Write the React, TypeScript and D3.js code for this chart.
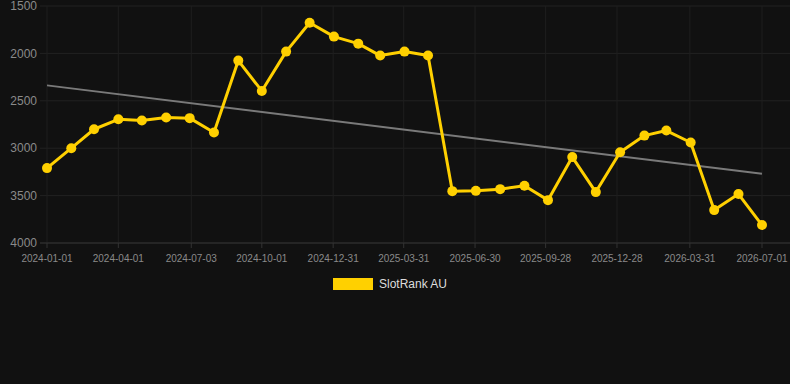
import React from "react";
import * as d3 from "d3";

const dates = [
  "2024-01-01","2024-02-01","2024-03-01","2024-04-01","2024-05-01","2024-06-01",
  "2024-07-01","2024-08-01","2024-09-01","2024-10-01","2024-11-01","2024-12-01",
  "2025-01-01","2025-02-01","2025-03-01","2025-04-01","2025-05-01","2025-06-01",
  "2025-07-01","2025-08-01","2025-09-01","2025-10-01","2025-11-01","2025-12-01",
  "2026-01-01","2026-02-01","2026-03-01","2026-04-01","2026-05-01","2026-06-01",
  "2026-07-01",
];
const ranks = [
  3210, 3000, 2800, 2695, 2708, 2677, 2683, 2835, 2076, 2396, 1981, 1676,
  1823, 1897, 2023, 1981, 2023, 3453, 3450, 3432, 3397, 3548, 3094, 3463,
  3042, 2867, 2814, 2940, 3653, 3484, 3811,
];
const yTicks = [1500, 2000, 2500, 3000, 3500, 4000];
const xTickLabels = [
  "2024-01-01","2024-04-01","2024-07-03","2024-10-01","2024-12-31","2025-03-31",
  "2025-06-30","2025-09-28","2025-12-28","2026-03-31","2026-07-01",
];
const seriesName = "SlotRank AU";
const xDomain = ["2024-01-01", "2026-07-01"];

const W = 790;
const H = 384;

export default function App() {
  const parse = d3.utcParse("%Y-%m-%d");
  const d0 = parse(xDomain[0])!;
  const d1 = parse(xDomain[1])!;
  const x = d3.scaleUtc().domain([d0, d1]).range([47, 762]);
  const y = d3.scaleLinear().domain([1500, 4000]).range([6, 243]);

  const pts = dates.map((d, i) => ({ t: parse(d)!, v: ranks[i] }));
  const xTicks = xTickLabels.map((s) => ({ s, t: parse(s)! }));

  // linear regression trend
  const xs = pts.map((p) => p.t.getTime());
  const mx = d3.mean(xs)!;
  const my = d3.mean(ranks)!;
  let num = 0, den = 0;
  xs.forEach((xv, i) => {
    num += (xv - mx) * (ranks[i] - my);
    den += (xv - mx) * (xv - mx);
  });
  const slope = num / den;
  const icpt = my - slope * mx;
  const tStart = xs[0];
  const tEnd = xs[xs.length - 1];

  const line = d3
    .line<{ t: Date; v: number }>()
    .x((p) => x(p.t))
    .y((p) => y(p.v));

  const font = "'Liberation Sans', Arial, Helvetica, sans-serif";
  const yellow = "#FFD000";

  return (
    <svg
      width={W}
      height={H}
      style={{ position: "absolute", left: 0, top: 0, background: "#111111" }}
      fontFamily={font}
    >
      <rect x={0} y={0} width={W} height={H} fill="#111111" />
      {yTicks.map((t) => (
        <line key={"gy" + t} x1={40} x2={W} y1={y(t)} y2={y(t)} stroke="#222222" strokeWidth={1} />
      ))}
      {xTicks.map((t, i) => (
        <line key={"gx" + i} x1={x(t.t)} x2={x(t.t)} y1={y(1500)} y2={y(4000)} stroke="#1f1f1f" strokeWidth={1} />
      ))}
      <line x1={40} x2={W} y1={y(4000)} y2={y(4000)} stroke="#333333" strokeWidth={1} />
      {xTicks.map((t, i) => (
        <line key={"tx" + i} x1={x(t.t)} x2={x(t.t)} y1={y(4000)} y2={y(4000) + 5} stroke="#333333" strokeWidth={1} />
      ))}
      {yTicks.map((t) => (
        <text key={"ly" + t} x={37} y={y(t)} dy="0.35em" textAnchor="end" fill="#8a8a8a" fontSize={12}>
          {t}
        </text>
      ))}
      {xTicks.map((t, i) => (
        <text key={"lx" + i} x={x(t.t)} y={262} textAnchor="middle" fill="#8a8a8a" fontSize={10}>
          {t.s}
        </text>
      ))}
      <line
        x1={x(new Date(tStart))}
        y1={y(icpt + slope * tStart)}
        x2={x(new Date(tEnd))}
        y2={y(icpt + slope * tEnd)}
        stroke="#7a7a7a"
        strokeWidth={2}
      />
      <path d={line(pts) || ""} fill="none" stroke={yellow} strokeWidth={3} strokeLinejoin="round" />
      {pts.map((p, i) => (
        <circle key={"c" + i} cx={x(p.t)} cy={y(p.v)} r={5} fill={yellow} />
      ))}
      <rect x={333} y={278} width={40} height={12} fill={yellow} />
      <text x={379} y={284} dy="0.35em" fill="#dddddd" fontSize={12}>
        {seriesName}
      </text>
    </svg>
  );
}
